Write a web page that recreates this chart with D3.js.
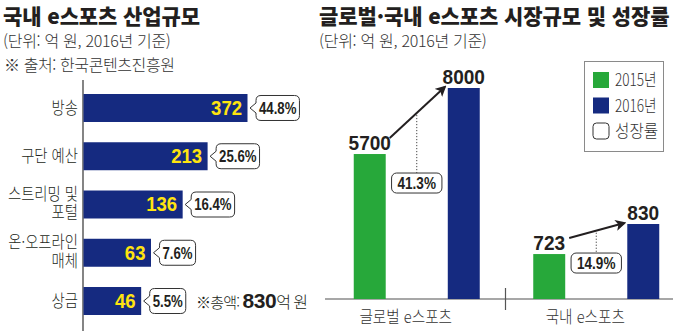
<!DOCTYPE html>
<html lang="ko">
<head>
<meta charset="utf-8">
<script src="https://cdn.jsdelivr.net/npm/d3@7"></script>
<style>
  html, body { margin: 0; padding: 0; background: #fff; }
  svg { display: block; }
  .kr { font-family: "Noto Sans CJK KR", "Noto Sans", sans-serif; }
  .num { font-family: "Liberation Sans Narrow", "Liberation Sans", Arial, sans-serif; font-weight: bold; }
</style>
</head>
<body>
<svg id="chart" width="673" height="331"></svg>
<script>
// ---- Domestic industry breakdown (left panel) ----
const industryCategories = ["방송", "구단 예산", "스트리밍 및\n포털", "온·오프라인\n매체", "상금"];
const industryValues = [372, 213, 136, 63, 46];
const industryShares = ["44.8%", "25.6%", "16.4%", "7.6%", "5.5%"];
const industryTotal = 830;

// ---- Market size & growth (right panel) ----
const marketGroups = ["글로벌 e스포츠", "국내 e스포츠"];
const marketYears = ["2015년", "2016년"];
const market2015 = [5700, 723];
const market2016 = [8000, 830];
const marketGrowth = ["41.3%", "14.9%"];

const NAVY = "#152a80";
const GREEN = "#27a83a";
const YELLOW = "#ffe40f";
const INK = "#231f20";

const svg = d3.select("#chart");
svg.append("rect").attr("width", 673).attr("height", 331).attr("fill", "#fff");

// squeeze a text run horizontally to give the condensed gothic look
function condense(sel, factor) {
  sel.each(function () {
    const w = this.getComputedTextLength();
    d3.select(this).attr("textLength", w * factor).attr("lengthAdjust", "spacingAndGlyphs");
  });
  return sel;
}

// ---------- Titles ----------
function title(x, main, sub) {
  svg.append("text").attr("class", "kr").attr("x", x).attr("y", 23.5)
    .attr("font-size", 21).attr("font-weight", 900).attr("letter-spacing", -0.1)
    .attr("fill", INK).text(main);
  svg.append("text").attr("class", "kr").attr("x", x).attr("y", 46.5)
    .attr("font-size", 16).attr("font-weight", 300).attr("letter-spacing", -0.3)
    .attr("fill", "#333").text(sub);
}
title(3, "국내 e스포츠 산업규모", "(단위: 억 원, 2016년 기준)");
title(319, "글로벌·국내 e스포츠 시장규모 및 성장률", "(단위: 억 원, 2016년 기준)");
svg.append("text").attr("class", "kr").attr("x", 4).attr("y", 71)
  .attr("font-size", 16).attr("font-weight", 300).attr("letter-spacing", -0.4)
  .attr("fill", "#333").text("※ 출처: 한국콘텐츠진흥원");

// ---------- Left panel: horizontal bars ----------
const axisX = 83;
const yBand = d3.scaleBand().domain(industryCategories).range([94, 315]).paddingInner(0.42).paddingOuter(0);
const xLen = d3.scaleSqrt().domain([0, 372]).range([0, 164]);

svg.append("line").attr("x1", axisX).attr("x2", axisX).attr("y1", 80).attr("y2", 331)
  .attr("stroke", "#333").attr("stroke-width", 1.2);

const rows = svg.append("g").selectAll("g").data(industryCategories).join("g")
  .attr("transform", d => `translate(0,${yBand(d)})`);

rows.append("rect")
  .attr("x", axisX + 0.5)
  .attr("y", 0)
  .attr("width", (d, i) => xLen(industryValues[i]))
  .attr("height", yBand.bandwidth())
  .attr("fill", NAVY);

condense(rows.append("text").attr("class", "num")
  .attr("x", (d, i) => axisX + xLen(industryValues[i]) - 5)
  .attr("y", yBand.bandwidth() / 2 + 7)
  .attr("text-anchor", "end").attr("font-size", 19.5).attr("fill", YELLOW)
  .text((d, i) => industryValues[i]), 0.95);

// category labels (may wrap to two lines)
rows.each(function (d) {
  const lines = d.split("\n");
  const g = d3.select(this);
  const mid = yBand.bandwidth() / 2;
  const lh = 19;
  lines.forEach((ln, k) => {
    condense(g.append("text").attr("class", "kr")
      .attr("x", 78)
      .attr("y", mid + 6 + (k - (lines.length - 1) / 2) * lh - (lines.length > 1 ? 1.5 : 0))
      .attr("text-anchor", "end").attr("font-size", 16.5).attr("font-weight", 300)
      .attr("fill", INK).text(ln), 0.87);
  });
});

// share callouts with a left-pointing notch
function calloutPath(x0, w, h, notch) {
  const r = 5, bx = x0 + notch, m = h / 2;
  return `M${x0},${m} L${bx},${m - 5} L${bx},${r} Q${bx},0 ${bx + r},0 L${x0 + w - r},0 Q${x0 + w},0 ${x0 + w},${r}` +
    ` L${x0 + w},${h - r} Q${x0 + w},${h} ${x0 + w - r},${h} L${bx + r},${h} Q${bx},${h} ${bx},${h - r} L${bx},${m + 5} Z`;
}
rows.each(function (d, i) {
  const g = d3.select(this);
  const x0 = axisX + xLen(industryValues[i]) + 3;
  const t = g.append("text").attr("class", "num")
    .attr("font-size", 16.5).attr("fill", INK)
    .attr("y", yBand.bandwidth() / 2 + 6).text(industryShares[i]);
  condense(t, 0.8);
  const tw = +t.attr("textLength");
  const w = tw + 12;
  g.insert("path", "text").attr("d", calloutPath(x0, w, 25, 6))
    .attr("transform", `translate(0,${yBand.bandwidth() / 2 - 12.5})`)
    .attr("fill", "#fff").attr("stroke", "#333").attr("stroke-width", 1);
  t.attr("x", x0 + 6 + (w - 6) / 2).attr("text-anchor", "middle");
});

// total note beside the last bar
const noteY = yBand(industryCategories[4]) + yBand.bandwidth() / 2 + 7;
const note = svg.append("text").attr("x", 196).attr("y", noteY).attr("fill", INK);
note.append("tspan").attr("class", "kr").attr("font-size", 15).attr("font-weight", 300).attr("letter-spacing", -0.8).text("※총액: ");
note.append("tspan").attr("class", "num").attr("font-size", 21).attr("letter-spacing", -0.5).text(industryTotal);
note.append("tspan").attr("class", "kr").attr("font-size", 16).attr("font-weight", 300).attr("letter-spacing", -1).text("억 원");

// ---------- Right panel: grouped columns ----------
const baseY = 299;
const xGroup = d3.scaleBand().domain(marketGroups).range([324, 683]);
const xYear = d3.scaleBand().domain(marketYears).range([0, 126]).paddingInner(0.66);
// each group drawn on its own truncated value axis
const yScales = [
  d3.scaleLinear().domain([650, 8000]).range([baseY, 88]),
  d3.scaleLinear().domain([563, 830]).range([baseY, 224])
];

svg.append("line").attr("x1", 325).attr("x2", 673).attr("y1", baseY).attr("y2", baseY)
  .attr("stroke", "#8a8a8a").attr("stroke-width", 1.5);
svg.append("line").attr("x1", xGroup(marketGroups[1]) + 2).attr("x2", xGroup(marketGroups[1]) + 2)
  .attr("y1", 288).attr("y2", 310).attr("stroke", "#555").attr("stroke-width", 1.2);

const defs = svg.append("defs");
defs.append("marker").attr("id", "arrowHead").attr("viewBox", "0 0 10 10")
  .attr("refX", 8).attr("refY", 5).attr("markerWidth", 5.5).attr("markerHeight", 5.5)
  .attr("orient", "auto").attr("markerUnits", "strokeWidth")
  .append("path").attr("d", "M0,0 L10,5 L0,10 L2.5,5 Z").attr("fill", INK);

marketGroups.forEach((grp, i) => {
  const y = yScales[i];
  const gx = xGroup(grp) + (xGroup.bandwidth() - 126) / 2 + 3;
  const vals = [market2015[i], market2016[i]];
  const cols = [GREEN, NAVY];
  const g = svg.append("g").attr("transform", `translate(${gx},0)`);

  g.selectAll("rect").data(vals).join("rect")
    .attr("x", (d, k) => xYear(marketYears[k]))
    .attr("y", d => y(d))
    .attr("width", xYear.bandwidth())
    .attr("height", d => baseY - y(d))
    .attr("fill", (d, k) => cols[k]);

  condense(g.selectAll("text.val").data(vals).join("text").attr("class", "num val")
    .attr("x", (d, k) => xYear(marketYears[k]) + xYear.bandwidth() / 2)
    .attr("y", d => y(d) - 4)
    .attr("text-anchor", "middle").attr("font-size", 20.5).attr("fill", INK)
    .text(d => d), 0.93);

  // growth arrow from the 2015 value to the 2016 column
  const x15r = xYear(marketYears[0]) + xYear.bandwidth();
  const x16l = xYear(marketYears[1]);
  const top15 = y(vals[0]), top16 = y(vals[1]);
  const sx = x15r + 4, sy = top15 - 16;
  const ex = x16l - 3, ey = top16 - 1;
  g.append("line").attr("x1", sx).attr("y1", sy).attr("x2", ex).attr("y2", ey)
    .attr("stroke", INK).attr("stroke-width", 2).attr("marker-end", "url(#arrowHead)");

  const mx = (x15r + x16l) / 2;
  const arrowY = sy + (ey - sy) * (mx - sx) / (ex - sx);
  const boxC = top15 + 0.2 * (baseY - top15);
  const boxH = 20;
  svg.append("line").attr("x1", gx + mx).attr("x2", gx + mx)
    .attr("y1", arrowY + 2).attr("y2", boxC - boxH / 2)
    .attr("stroke", "#444").attr("stroke-width", 1).attr("stroke-dasharray", "1.2,1.8");

  const t = g.append("text").attr("class", "num").attr("x", mx).attr("y", boxC + 6)
    .attr("text-anchor", "middle").attr("font-size", 16.5).attr("fill", INK).text(marketGrowth[i]);
  condense(t, 0.82);
  const tw = +t.attr("textLength");
  g.insert("rect", "text").attr("x", mx - tw / 2 - 6).attr("y", boxC - boxH / 2)
    .attr("width", tw + 12).attr("height", boxH).attr("rx", 5)
    .attr("fill", "#fff").attr("stroke", "#333").attr("stroke-width", 1);

  condense(svg.append("text").attr("class", "kr")
    .attr("x", xGroup(grp) + xGroup.bandwidth() / 2 - 8).attr("y", 323)
    .attr("text-anchor", "middle").attr("font-size", 17).attr("font-weight", 300)
    .attr("fill", "#333").text(grp), 0.86);
});

// ---------- Legend ----------
const leg = svg.append("g").attr("transform", "translate(584,61)");
leg.append("rect").attr("x", 0.5).attr("y", 0.5).attr("width", 79).attr("height", 90)
  .attr("fill", "#fff").attr("stroke", "#8a8a8a").attr("stroke-width", 1);
const legItems = [...marketYears, "성장률"];
const legFill = [GREEN, NAVY, "#fff"];
legItems.forEach((lbl, k) => {
  const yy = 11 + k * 25.5;
  leg.append("rect").attr("x", 9).attr("y", yy).attr("width", 16).attr("height", 16)
    .attr("rx", k === 2 ? 3.5 : 0).attr("fill", legFill[k])
    .attr("stroke", k === 2 ? "#333" : "none").attr("stroke-width", 1);
  condense(leg.append("text").attr("class", "kr").attr("x", 31).attr("y", yy + 14)
    .attr("font-size", 17).attr("font-weight", 300)
    .attr("fill", "#333").text(lbl), k === 2 ? 0.92 : 0.8);
});
</script>
</body>
</html>
